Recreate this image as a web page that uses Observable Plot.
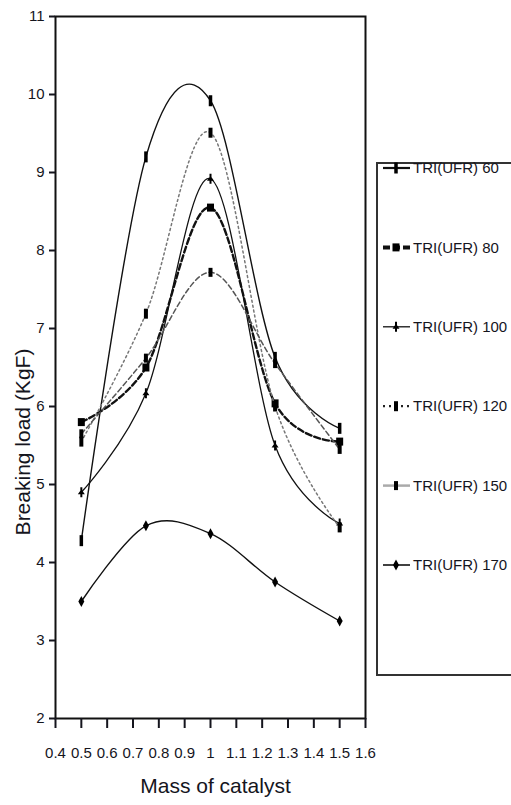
<!DOCTYPE html>
<html><head><meta charset="utf-8">
<script src="https://cdn.jsdelivr.net/npm/d3@7"></script>
<script src="https://cdn.jsdelivr.net/npm/@observablehq/plot@0.6"></script>
<style>
html,body{margin:0;padding:0;background:#fff;overflow:hidden}
#wrap{position:relative;width:511px;height:805px;overflow:hidden}
#wrap svg{display:block}
#legend{position:absolute;left:0;top:0;pointer-events:none}
</style></head><body><div id="wrap"></div>
<script>
// ---- data ----
const mass = [0.5, 0.75, 1.0, 1.25, 1.5];
const seriesNames = ["TRI(UFR) 60", "TRI(UFR) 80", "TRI(UFR) 100", "TRI(UFR) 120", "TRI(UFR) 150", "TRI(UFR) 170"];
const tri60  = [4.28, 9.2, 9.92, 6.63, 5.72];
const tri80  = [5.8, 6.5, 8.55, 6.04, 5.55];
const tri100 = [4.9, 6.17, 8.92, 5.5, 4.5];
const tri120 = [5.55, 7.19, 9.51, 6.0, 4.45];
const tri150 = [5.65, 6.62, 7.72, 6.55, 5.45];
const tri170 = [3.5, 4.47, 4.37, 3.75, 3.25];
const xTicks = [0.4, 0.5, 0.6, 0.7, 0.8, 0.9, 1.0, 1.1, 1.2, 1.3, 1.4, 1.5, 1.6];
const xTickLabels = ["0.4", "0.5", "0.6", "0.7", "0.8", "0.9", "1", "1.1", "1.2", "1.3", "1.4", "1.5", "1.6"];
const yTicks = [2, 3, 4, 5, 6, 7, 8, 9, 10, 11];
const xTitle = "Mass of catalyst";
const yTitle = "Breaking load (KgF)";

const valuesList = [tri60, tri80, tri100, tri120, tri150, tri170];
const rows = seriesNames.flatMap((s, i) => mass.map((m, j) => ({series: s, x: m, y: valuesList[i][j]})));

// ---- symbols ----
const rectSym = (w, h) => ({draw(c) { c.moveTo(-w/2, -h/2); c.lineTo(w/2, -h/2); c.lineTo(w/2, h/2); c.lineTo(-w/2, h/2); c.closePath(); }});
const diamondSym = (w, h) => ({draw(c) { c.moveTo(0, -h/2); c.lineTo(w/2, 0); c.lineTo(0, h/2); c.lineTo(-w/2, 0); c.closePath(); }});
const triBarSym = {draw(c) {
  c.moveTo(-1, -5); c.lineTo(1, -5); c.lineTo(1, 5); c.lineTo(-1, 5); c.closePath();
  c.moveTo(0, -3); c.lineTo(3.5, 2); c.lineTo(-3.5, 2); c.closePath();
}};

const styles = [
  {stroke: "#111", sw: 1.4, dash: null,  sym: rectSym(3.5, 11), lstroke: "#111", lsw: 2.2, ldash: null},
  {stroke: "#111", sw: 2.4, dash: "6,3", sym: rectSym(7, 8),    lstroke: "#111", lsw: 4,   ldash: "7,3"},
  {stroke: "#111", sw: 1.3, dash: null,  sym: triBarSym,        lstroke: "#111", lsw: 1.3, ldash: null},
  {stroke: "#777", sw: 1.5, dash: "2,3", sym: rectSym(4, 10),   lstroke: "#222", lsw: 2.2, ldash: "2,4"},
  {stroke: "#555", sw: 1.5, dash: "5,3", sym: rectSym(4, 9),    lstroke: "#aaa", lsw: 2.5, ldash: null},
  {stroke: "#111", sw: 1.4, dash: null,  sym: diamondSym(6, 11),lstroke: "#111", lsw: 1.6, ldash: null}
];

const seriesMarks = seriesNames.flatMap((name, i) => {
  const d = rows.filter(r => r.series === name);
  const st = styles[i];
  return [
    Plot.line(d, {x: "x", y: "y", curve: "cardinal", stroke: st.stroke, strokeWidth: st.sw, strokeDasharray: st.dash}),
    Plot.dot(d, {x: "x", y: "y", symbol: st.sym, r: 4, fill: "#000", stroke: "none"})
  ];
});

const FONT = "'Liberation Sans', Arial, sans-serif";
const TXT = "#15151d";

const chart = Plot.plot({
  width: 511,
  height: 805,
  marginTop: 16,
  marginBottom: 87,
  marginLeft: 55,
  marginRight: 146,
  x: {domain: [0.4, 1.6]},
  y: {domain: [2, 11]},
  style: {fontFamily: FONT, fontSize: "15px", color: TXT, background: "#fff"},
  marks: [
    ...seriesMarks,
    Plot.frame({stroke: "#111", strokeWidth: 2}),
    Plot.axisY(yTicks, {tickSize: 6, tickPadding: 5, strokeWidth: 2, label: null, tickFormat: d => String(d)}),
    Plot.axisX(xTicks, {tickSize: 10, tickPadding: 19, strokeWidth: 2, label: null, tickFormat: d => xTickLabels[xTicks.indexOf(d)]}),
    Plot.text([xTitle], {frameAnchor: "bottom", dx: 5, dy: 74, text: d => d, fontSize: 21, fill: TXT})
  ]
});
document.getElementById("wrap").appendChild(chart);

// ---- overlay: y title and legend ----
const lg = d3.select("#wrap").append("svg").attr("id", "legend").attr("width", 511).attr("height", 805)
  .style("font-family", FONT);
lg.append("text").attr("transform", "translate(23,442) rotate(-90)").attr("text-anchor", "middle")
  .attr("dy", "0.35em").attr("font-size", 21).attr("fill", TXT).text(yTitle);
lg.append("rect").attr("x", 377).attr("y", 163).attr("width", 200).attr("height", 512)
  .attr("fill", "#fff").attr("stroke", "#333").attr("stroke-width", 2);
const ly0 = 168, lstep = 79.4;
seriesNames.forEach((name, i) => {
  const st = styles[i];
  const y = ly0 + i * lstep;
  lg.append("line").attr("x1", 383).attr("x2", 410).attr("y1", y).attr("y2", y)
    .attr("stroke", st.lstroke).attr("stroke-width", st.lsw).attr("stroke-dasharray", st.ldash);
  const p = d3.path(); st.sym.draw(p);
  lg.append("path").attr("d", p.toString()).attr("transform", `translate(396,${y})`).attr("fill", "#000");
  lg.append("text").attr("x", 413).attr("y", y).attr("dy", "0.35em").attr("font-size", 15)
    .attr("fill", TXT).text(name);
});
</script>
</body></html>
